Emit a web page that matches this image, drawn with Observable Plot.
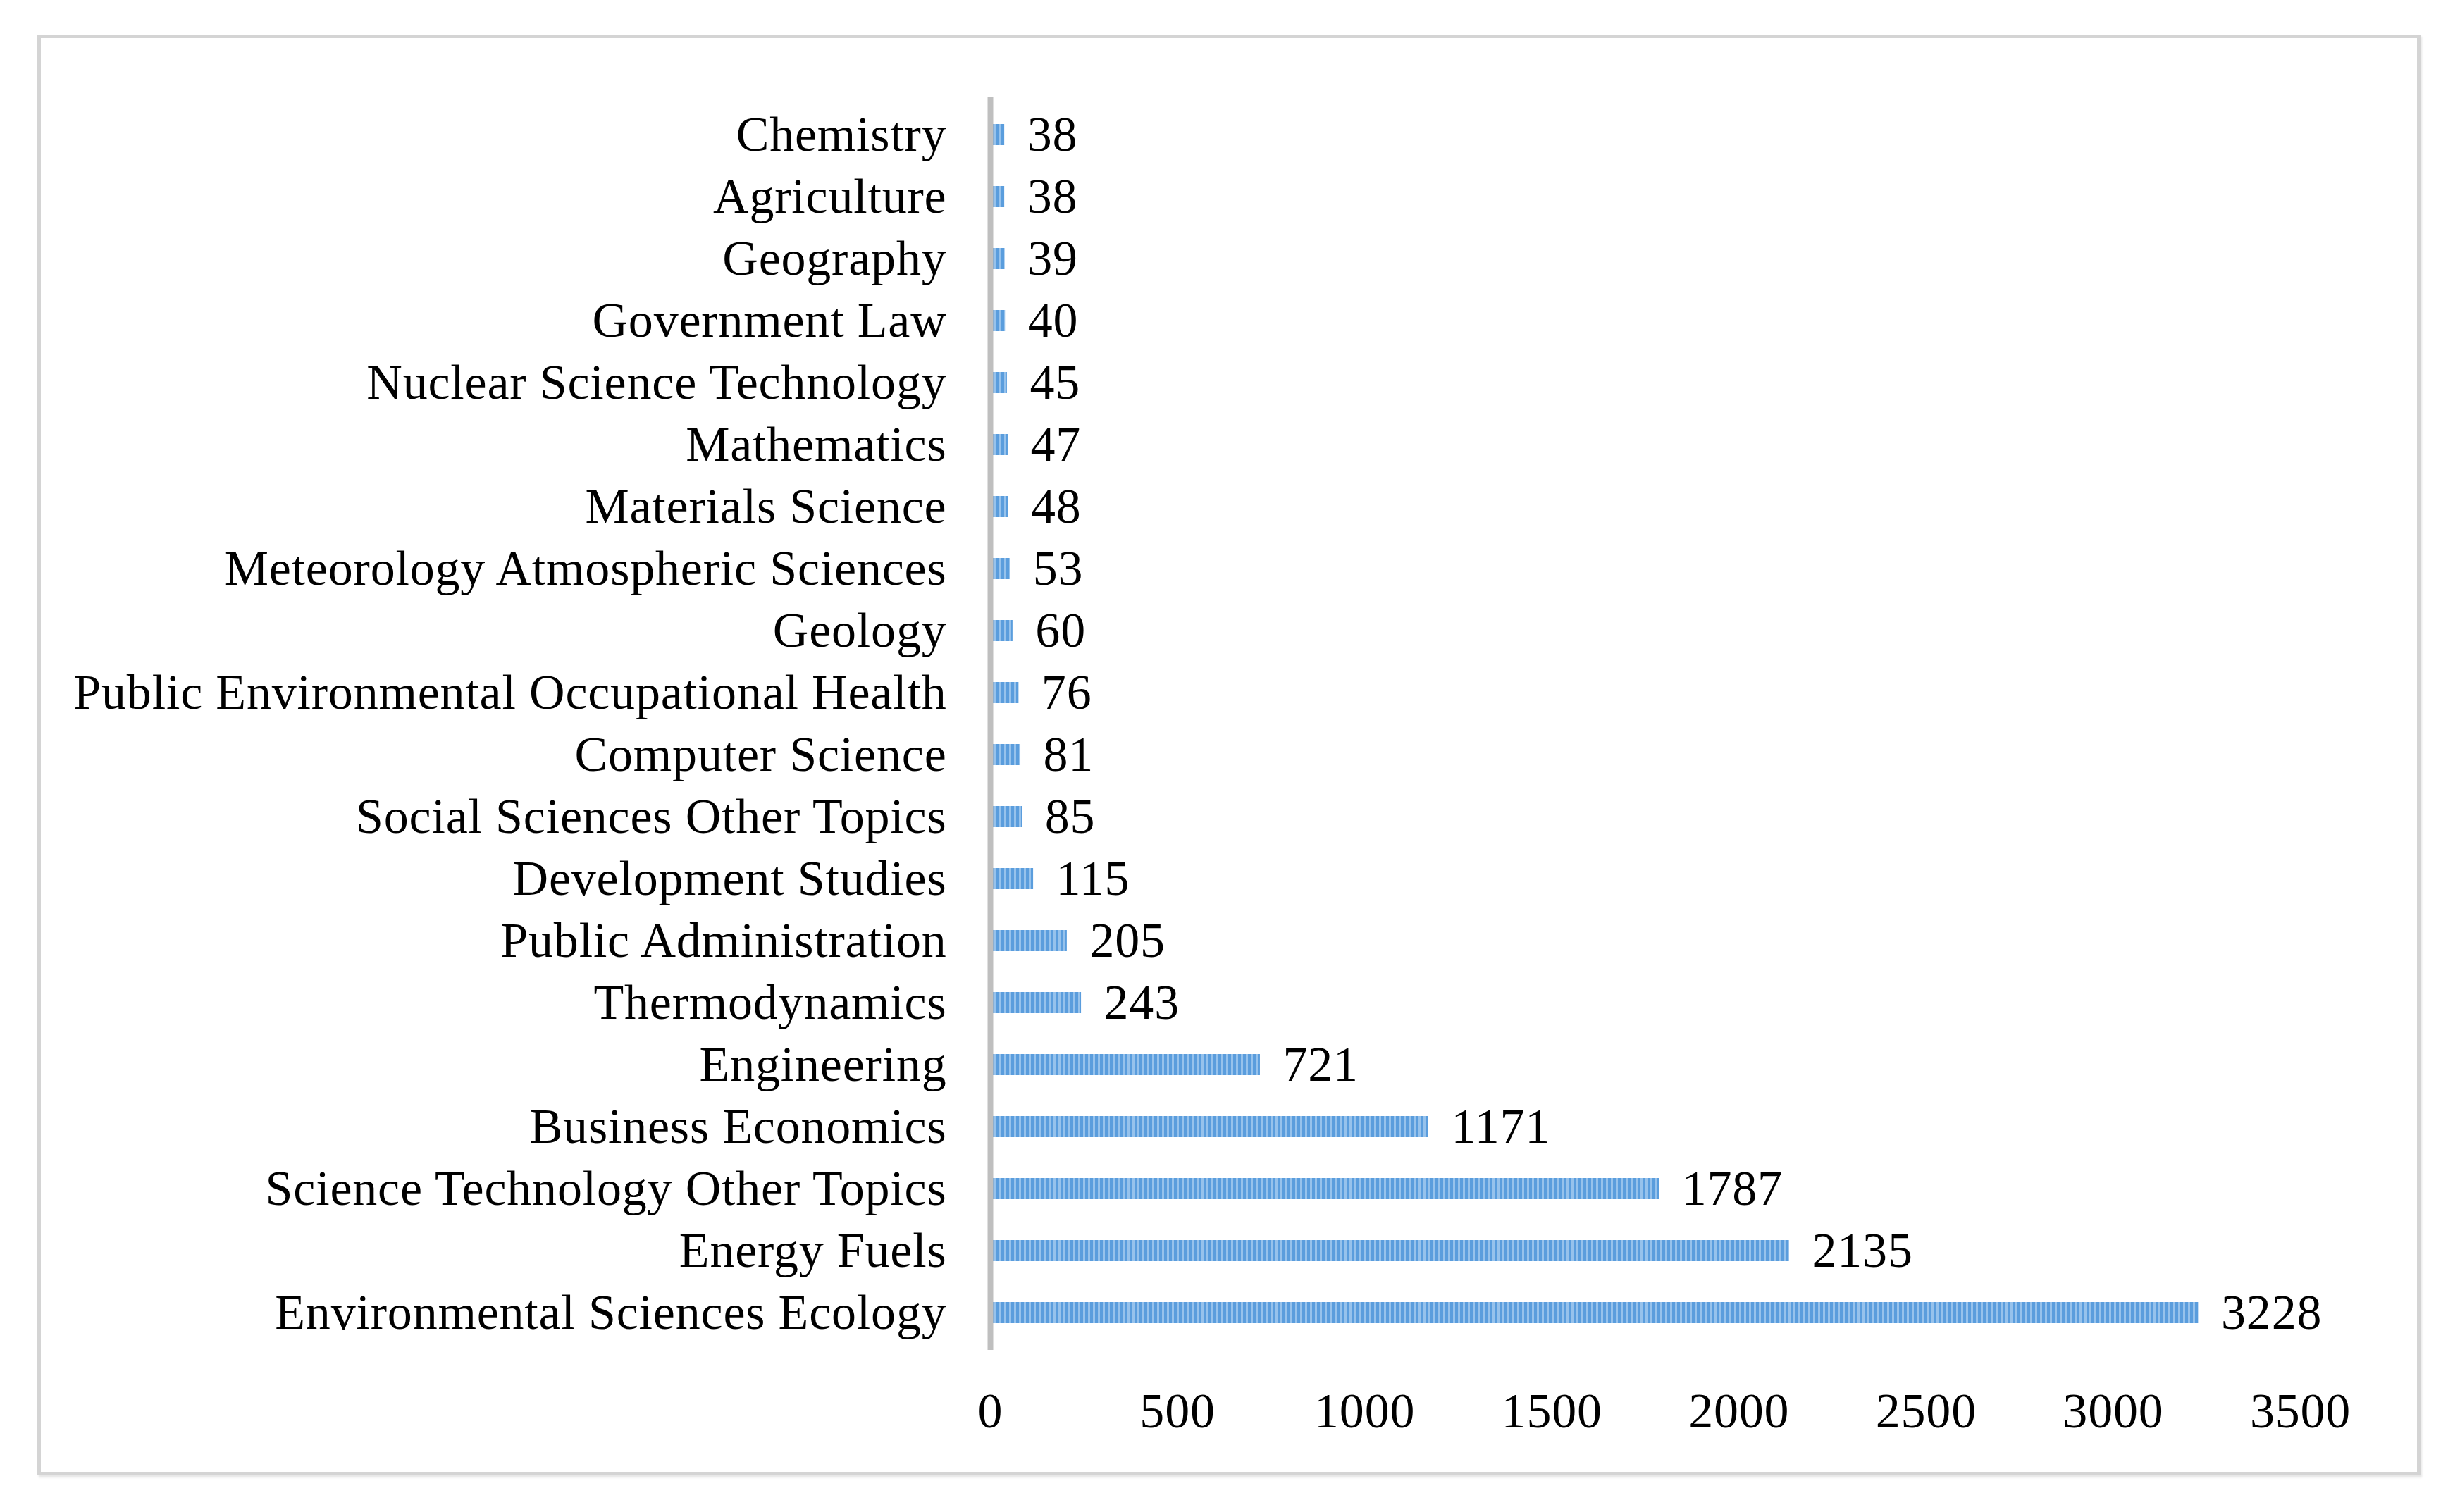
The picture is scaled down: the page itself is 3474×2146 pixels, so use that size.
<!DOCTYPE html>
<html>
<head>
<meta charset="utf-8">
<script src="https://cdn.jsdelivr.net/npm/d3@7"></script>
<script src="https://cdn.jsdelivr.net/npm/@observablehq/plot@0.6"></script>
<style>
  html, body { margin: 0; padding: 0; background: #fff; }
  #wrap { position: relative; width: 3474px; height: 2146px; overflow: hidden; }
  #border { position: absolute; left: 53px; top: 49px; width: 3372px; height: 2035px;
            border: 5px solid #d4d4d4; box-shadow: 2px 3px 3px #e6e6e6; }
  #chart { position: absolute; left: 0; top: 0; }
  #chart svg text { letter-spacing: 0.8px; }
</style>
</head>
<body>
<div id="wrap"><div id="border"></div><div id="chart"></div></div>
<script>
const categories = [
  "Chemistry", "Agriculture", "Geography", "Government Law",
  "Nuclear Science Technology", "Mathematics", "Materials Science",
  "Meteorology Atmospheric Sciences", "Geology",
  "Public Environmental Occupational Health", "Computer Science",
  "Social Sciences Other Topics", "Development Studies",
  "Public Administration", "Thermodynamics", "Engineering",
  "Business Economics", "Science Technology Other Topics",
  "Energy Fuels", "Environmental Sciences Ecology"
];
const values = [38, 38, 39, 40, 45, 47, 48, 53, 60, 76, 81, 85, 115, 205, 243, 721, 1171, 1787, 2135, 3228];
const xTicks = [0, 500, 1000, 1500, 2000, 2500, 3000, 3500];

const data = categories.map((c, i) => ({category: c, value: values[i]}));

const chart = Plot.plot({
  width: 3474,
  height: 2146,
  marginLeft: 1405,
  marginRight: 210,
  marginTop: 137,
  marginBottom: 230,
  style: {fontFamily: "'Liberation Serif', 'Times New Roman', serif", fontSize: "70px", color: "#000", background: "transparent"},
  x: {domain: [0, 3500], ticks: xTicks, tickSize: 0, tickPadding: 60, label: null, tickFormat: d => String(d)},
  y: {domain: categories, paddingInner: 0.66, paddingOuter: 0.33, tickSize: 0, tickPadding: 62, label: null},
  marks: [
    Plot.barX(data, {x: "value", y: "category", fill: "url(#stripes)"}),
    Plot.ruleX([0], {stroke: "#bfbfbf", strokeWidth: 8}),
    Plot.text(data, {x: "value", y: "category", text: d => String(d.value), textAnchor: "start", dx: 32, fill: "#000", fontSize: 70})
  ]
});

const svg = d3.select(chart);
const defs = svg.insert("defs", ":first-child");
const pat = defs.append("pattern").attr("id", "stripes").attr("patternUnits", "userSpaceOnUse")
  .attr("width", 7).attr("height", 40);
pat.append("rect").attr("width", 7).attr("height", 40).attr("fill", "#5a9ddd");
pat.append("rect").attr("x", 4).attr("width", 3).attr("height", 40).attr("fill", "#96c2ec");

document.getElementById("chart").appendChild(chart);
</script>
</body>
</html>
